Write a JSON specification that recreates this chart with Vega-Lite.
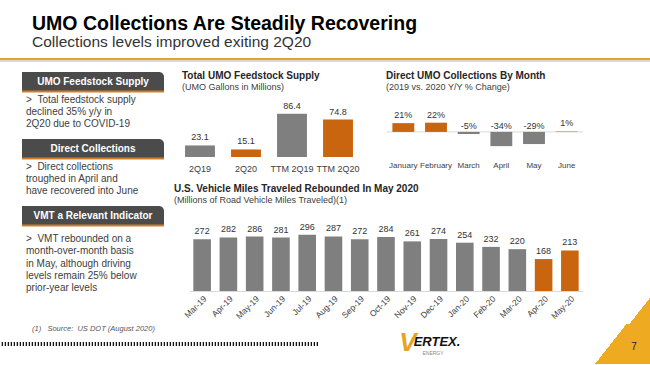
{
  "$schema": "https://vega.github.io/schema/vega-lite/v6.json",
  "background": "white",
  "padding": {"left": -2, "top": 14, "right": 0, "bottom": 0},
  "config": {
    "font": "Liberation Sans",
    "view": {"stroke": null},
    "locale": {"number": {"decimal": ".", "thousands": ",", "grouping": [3], "currency": ["$", ""], "minus": "-"}}
  },
  "spacing": 3,
  "vconcat": [
    {
      "bounds": "flush",
      "spacing": 0,
      "vconcat": [
        {
          "width": 650, "height": 2,
          "view": {"fill": "#e3a13a", "stroke": null},
          "title": {"text": "UMO Collections Are Steadily Recovering", "subtitle": "Collections levels improved exiting 2Q20", "anchor": "start", "dx": 32, "offset": 7, "fontSize": 19.5, "fontWeight": "bold", "color": "#000000", "subtitleFontSize": 15.5, "subtitleColor": "#333333", "subtitlePadding": 0},
          "data": {"values": [{}]}, "mark": {"type": "text", "fontSize": 0}, "encoding": {"text": {"value": ""}}
        },
        {"width": 650, "height": 2, "view": {"fill": "#d8d8d8", "stroke": null}, "data": {"values": [{}]}, "mark": {"type": "text", "fontSize": 0}, "encoding": {"text": {"value": ""}}}
      ]
    },
    {
      "spacing": 0,
      "vconcat": [
        {
          "spacing": 9,
          "hconcat": [
            {"width": 12, "height": 1, "data": {"values": [{}]}, "mark": {"type": "text", "fontSize": 0}, "encoding": {"text": {"value": ""}}},
            {
              "width": 142, "height": 161,
              "data": {"values": [
                {"sec": "A", "head": "UMO Feedstock Supply", "lines": [">\u00a0\u00a0Total feedstock supply", "\u00a0\u00a0\u00a0\u00a0declined 35% y/y in", "\u00a0\u00a0\u00a0\u00a02Q20 due to COVID-19"]},
                {"sec": "B", "head": "Direct Collections", "lines": [">\u00a0\u00a0Direct collections", "\u00a0\u00a0\u00a0\u00a0troughed in April and", "\u00a0\u00a0\u00a0\u00a0have recovered into June"]},
                {"sec": "C", "head": "VMT a Relevant Indicator", "lines": [">\u00a0\u00a0VMT rebounded on a", "\u00a0\u00a0\u00a0\u00a0month-over-month basis", "\u00a0\u00a0\u00a0\u00a0in May, although driving", "\u00a0\u00a0\u00a0\u00a0levels remain 25% below", "\u00a0\u00a0\u00a0\u00a0prior-year levels"]}
              ]},
              "layer": [
                {"mark": {"type": "bar", "color": "#4b4b4b", "cornerRadiusTopRight": 5}, "encoding": {"y": {"field": "sec", "type": "nominal", "scale": {"domain": ["A", "B", "C"], "paddingInner": 0.7015, "paddingOuter": 0.0522, "align": 1}, "axis": null}}},
                {"mark": {"type": "rule", "color": "#cf7f2c", "strokeWidth": 2}, "encoding": {"y": {"field": "sec", "type": "nominal", "bandPosition": 0.97}}},
                {"mark": {"type": "text", "color": "white", "fontWeight": "bold", "fontSize": 10, "baseline": "middle"}, "encoding": {"y": {"field": "sec", "type": "nominal", "bandPosition": 0.5}, "text": {"field": "head"}}},
                {"transform": [{"filter": "datum.sec !== 'C'"}], "mark": {"type": "text", "color": "#404040", "fontSize": 10, "align": "left", "baseline": "top", "lineHeight": 12, "dx": 4, "dy": 3}, "encoding": {"y": {"field": "sec", "type": "nominal", "bandPosition": 1}, "x": {"datum": 0, "type": "quantitative", "scale": {"domain": [0, 1]}, "axis": null}, "text": {"field": "lines"}}},
                {"transform": [{"filter": "datum.sec === 'C'"}], "mark": {"type": "text", "color": "#404040", "fontSize": 10, "align": "left", "baseline": "top", "lineHeight": 12.3, "dx": 4, "dy": 8}, "encoding": {"y": {"field": "sec", "type": "nominal", "bandPosition": 1}, "x": {"datum": 0, "type": "quantitative"}, "text": {"field": "lines"}}}
              ]
            },
            {
              "spacing": 11,
              "vconcat": [
                {
                  "bounds": "flush",
                  "spacing": 23,
                  "hconcat": [
                    {
                      "width": 190, "height": 92,
                      "data": {"values": [
                        {"p": "2Q19", "v": 23.1},
                        {"p": "2Q20", "v": 15.1},
                        {"p": "TTM 2Q19", "v": 86.4},
                        {"p": "TTM 2Q20", "v": 74.8}
                      ]},
                      "title": {"text": "Total UMO Feedstock Supply", "subtitle": "(UMO Gallons in Millions)", "anchor": "start", "frame": "group", "dx": 8, "offset": -27, "fontSize": 10, "fontWeight": "bold", "color": "#262626", "subtitleFontSize": 9, "subtitleColor": "#404040", "subtitlePadding": 2},
                      "encoding": {
                        "x": {"field": "p", "type": "nominal", "sort": null, "scale": {"paddingInner": 0.35, "paddingOuter": 0.24}, "axis": {"title": null, "labelAngle": 0, "ticks": false, "domain": false, "labelPadding": 7, "labelFontSize": 9, "labelColor": "#404040"}},
                        "y": {"field": "v", "type": "quantitative", "scale": {"domain": [0, 184]}, "axis": null}
                      },
                      "layer": [
                        {"mark": {"type": "bar"}, "encoding": {"color": {"condition": {"test": "indexof(datum.p, '2Q20') >= 0", "value": "#c9650e"}, "value": "#7f7f7f"}}},
                        {"mark": {"type": "text", "dy": -5, "baseline": "alphabetic", "fontSize": 9, "color": "#333333"}, "encoding": {"text": {"field": "v", "type": "quantitative", "format": ".1f"}}}
                      ]
                    },
                    {
                      "width": 196, "height": 92,
                      "data": {"values": [
                        {"m": "January", "v": 0.21},
                        {"m": "February", "v": 0.22},
                        {"m": "March", "v": -0.05},
                        {"m": "April", "v": -0.34},
                        {"m": "May", "v": -0.29},
                        {"m": "June", "v": 0.01}
                      ]},
                      "title": {"text": "Direct UMO Collections By Month", "subtitle": "(2019 vs. 2020 Y/Y % Change)", "anchor": "start", "frame": "group", "dx": -1, "offset": -27, "fontSize": 10, "fontWeight": "bold", "color": "#262626", "subtitleFontSize": 9, "subtitleColor": "#404040", "subtitlePadding": 2},
                      "layer": [
                        {"data": {"values": [{}]}, "mark": {"type": "rule", "color": "#d9d9d9", "strokeWidth": 1}, "encoding": {"y": {"datum": 0, "type": "quantitative", "scale": {"domain": [-0.5, 1.544]}, "axis": null}}},
                        {"mark": {"type": "bar"}, "encoding": {
                          "x": {"field": "m", "type": "nominal", "sort": null, "scale": {"paddingInner": 0.33, "paddingOuter": 0.165}, "axis": {"title": null, "labelAngle": 0, "ticks": false, "domain": false, "labelPadding": 4, "labelFontSize": 8, "labelColor": "#404040"}},
                          "y": {"field": "v", "type": "quantitative"},
                          "color": {"condition": {"test": "datum.v < 0", "value": "#7f7f7f"}, "value": "#c9650e"}}},
                        {"transform": [{"filter": "datum.v >= 0"}], "mark": {"type": "text", "dy": -5, "baseline": "alphabetic", "fontSize": 9, "color": "#333333"}, "encoding": {
                          "x": {"field": "m", "type": "nominal", "sort": null},
                          "y": {"field": "v", "type": "quantitative"},
                          "text": {"field": "v", "type": "quantitative", "format": ".0%"}}},
                        {"transform": [{"filter": "datum.v < 0"}], "mark": {"type": "text", "dy": -3, "baseline": "alphabetic", "fontSize": 9, "color": "#333333"}, "encoding": {
                          "x": {"field": "m", "type": "nominal", "sort": null},
                          "y": {"datum": 0, "type": "quantitative"},
                          "text": {"field": "v", "type": "quantitative", "format": ".0%"}}}
                      ]
                    }
                  ]
                },
                {
                  "bounds": "flush",
                  "spacing": 14,
                  "hconcat": [
                    {"width": 1, "height": 1, "data": {"values": [{}]}, "mark": {"type": "text", "fontSize": 0}, "encoding": {"text": {"value": ""}}},
                    {
                      "width": 394, "height": 85,
                      "data": {"values": [
                        {"m": "Mar-19", "v": 272},
                        {"m": "Apr-19", "v": 282},
                        {"m": "May-19", "v": 286},
                        {"m": "Jun-19", "v": 281},
                        {"m": "Jul-19", "v": 296},
                        {"m": "Aug-19", "v": 287},
                        {"m": "Sep-19", "v": 272},
                        {"m": "Oct-19", "v": 284},
                        {"m": "Nov-19", "v": 261},
                        {"m": "Dec-19", "v": 274},
                        {"m": "Jan-20", "v": 254},
                        {"m": "Feb-20", "v": 232},
                        {"m": "Mar-20", "v": 220},
                        {"m": "Apr-20", "v": 168},
                        {"m": "May-20", "v": 213}
                      ]},
                      "title": {"text": "U.S. Vehicle Miles Traveled Rebounded In May 2020", "subtitle": "(Millions of Road Vehicle Miles Traveled)(1)", "anchor": "start", "frame": "group", "dx": -15, "offset": 1, "fontSize": 10, "fontWeight": "bold", "color": "#262626", "subtitleFontSize": 9, "subtitleColor": "#404040", "subtitlePadding": 2},
                      "encoding": {
                        "x": {"field": "m", "type": "nominal", "sort": null, "scale": {"paddingInner": 0.33, "paddingOuter": 0.165}, "axis": {"title": null, "labelAngle": -45, "ticks": false, "domain": true, "domainColor": "#d9d9d9", "labelPadding": 3, "labelFontSize": 8.5, "labelColor": "#404040"}},
                        "y": {"field": "v", "type": "quantitative", "scale": {"domain": [0, 447]}, "axis": null}
                      },
                      "layer": [
                        {"mark": {"type": "bar"}, "encoding": {"color": {"condition": {"test": "datum.m === 'Apr-20' || datum.m === 'May-20'", "value": "#c9650e"}, "value": "#7f7f7f"}}},
                        {"mark": {"type": "text", "dy": -5, "baseline": "alphabetic", "fontSize": 9, "color": "#333333"}, "encoding": {"text": {"field": "v", "type": "quantitative", "format": "d"}}}
                      ]
                    }
                  ]
                }
              ]
            },
            {
              "width": 60, "height": 259,
              "view": {"stroke": null, "fill": {"gradient": "linear", "x1": 0, "y1": 0, "x2": 0.6396, "y2": 2.1694, "stops": [{"offset": 0, "color": "rgba(255,255,255,0)"}, {"offset": 0.5, "color": "rgba(255,255,255,0)"}, {"offset": 0.5, "color": "#eeaa20"}, {"offset": 1, "color": "#eeaa20"}]}},
              "data": {"values": [{}]}, "mark": {"type": "text", "fontSize": 0}, "encoding": {"text": {"value": ""}}
            }
          ]
        },
        {
          "bounds": "flush",
          "spacing": 0,
          "hconcat": [
            {
              "width": 318, "height": 20,
              "layer": [
                {"data": {"values": [{}]}, "mark": {"type": "rule", "color": "#111111", "strokeWidth": 4, "strokeDash": [1.3, 1.7]}, "encoding": {"y": {"datum": 0, "type": "quantitative", "scale": {"domain": [0, 1]}, "axis": null}}},
                {"data": {"values": [{"t": "(1)\u00a0\u00a0\u00a0Source:\u00a0\u00a0US DOT (August 2020)"}]}, "mark": {"type": "text", "fontSize": 7.5, "fontStyle": "italic", "color": "#555555", "align": "left", "baseline": "middle", "dx": 32, "dy": -15}, "encoding": {"x": {"datum": 0, "type": "quantitative", "scale": {"domain": [0, 1]}, "axis": null}, "y": {"datum": 0, "type": "quantitative"}, "text": {"field": "t"}}}
              ]
            },
            {
              "width": 277, "height": 20,
              "encoding": {"x": {"datum": 0, "type": "quantitative", "scale": {"domain": [0, 1]}, "axis": null}, "y": {"datum": 0, "type": "quantitative", "scale": {"domain": [0, 1]}, "axis": null}},
              "layer": [
                {"data": {"values": [{"t": "V"}]}, "mark": {"type": "text", "fontSize": 26, "fontWeight": "bold", "fontStyle": "italic", "color": "#e8a31d", "dx": 90, "dy": -1, "baseline": "middle"}, "encoding": {"text": {"field": "t"}}},
                {"data": {"values": [{"t": "ERTEX."}]}, "mark": {"type": "text", "fontSize": 13, "fontWeight": "bold", "fontStyle": "italic", "color": "#111111", "dx": 119, "dy": -2, "baseline": "middle"}, "encoding": {"text": {"field": "t"}}},
                {"data": {"values": [{"t": "ENERGY"}]}, "mark": {"type": "text", "fontSize": 5, "letterSpacing": 1.5, "color": "#888888", "dx": 115, "dy": 9, "baseline": "middle"}, "encoding": {"text": {"field": "t"}}}
              ]
            },
            {
              "width": 55, "height": 40,
              "view": {"stroke": null, "fill": {"gradient": "linear", "x1": 0, "y1": 0, "x2": 0.8615, "y2": 0.4923, "stops": [{"offset": 0, "color": "rgba(255,255,255,0)"}, {"offset": 0.5, "color": "rgba(255,255,255,0)"}, {"offset": 0.5, "color": "#eeaa20"}, {"offset": 1, "color": "#eeaa20"}]}},
              "data": {"values": [{"t": "7"}]},
              "mark": {"type": "text", "fontSize": 10, "color": "#222222", "dx": 39, "dy": -17, "baseline": "middle"},
              "encoding": {"x": {"datum": 0, "type": "quantitative", "scale": {"domain": [0, 1]}, "axis": null}, "y": {"datum": 0, "type": "quantitative", "scale": {"domain": [0, 1]}, "axis": null}, "text": {"field": "t"}}
            }
          ]
        }
      ]
    }
  ]
}
